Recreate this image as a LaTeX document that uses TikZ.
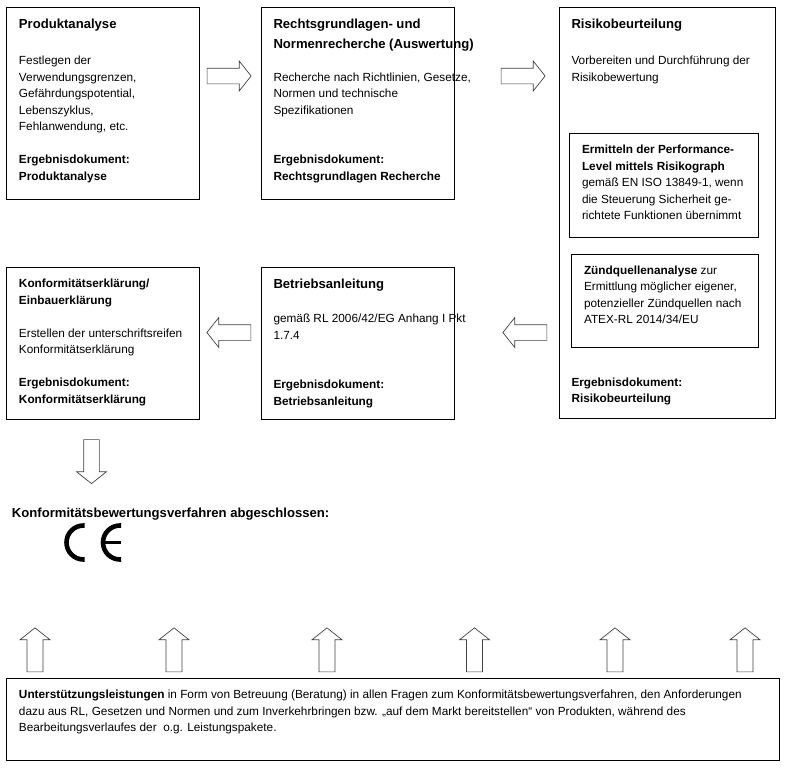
\documentclass[tikz,border=0pt]{standalone}
\usepackage{fontspec}
\setmainfont{Liberation Sans}
\usetikzlibrary{positioning,calc,shapes.arrows}
\newcommand{\boxtitle}[1]{{\bfseries\fontsize{13.1}{16.5}\selectfont #1}}
\tikzset{
  stepbox/.style={draw=black,line width=0.9pt,outer sep=0pt,inner sep=0pt,anchor=north west},
  boxtxt/.style={inner sep=0pt,outer sep=0pt,align=left,font=\fontsize{11.8}{16.5}\selectfont},
  blockarrow/.style={single arrow,draw=black!75,line width=0.7pt,fill=white,inner xsep=0pt,inner ysep=7.5pt,outer sep=0pt,
    minimum height=44pt,minimum width=29pt,single arrow head extend=7pt,
    single arrow tip angle=103,single arrow head indent=0pt},
  vblockarrow/.style={blockarrow,inner xsep=7.5pt,inner ysep=0pt},
  ce/.style={line width=4.6pt}
}
\begin{document}
\begin{tikzpicture}[x=1pt,y=-1pt]
  \useasboundingbox (0,0) rectangle (787,771);
  % TOP ROW: three working steps
  \node[stepbox,minimum width=193pt,minimum height=192pt] (prod) at (6.5,7.5) {};
  \node[stepbox,minimum width=193pt,minimum height=192pt,right=62pt of prod.north east,anchor=north west] (recht) {};
  \node[stepbox,minimum width=216pt,minimum height=411pt,right=105pt of recht.north east,anchor=north west] (risk) {};
  \node[boxtxt,below right=12pt and 12.5pt of prod.north west] (prodtxt) {\boxtitle{Produktanalyse}\\[19.5pt]
    Festlegen der\\Verwendungsgrenzen,\\Gefährdungspotential,\\Lebenszyklus,\\Fehlanwendung, etc.\\[16.5pt]
    \textbf{Ergebnisdokument:}\\\textbf{Produktanalyse}};
  \node[boxtxt,below right=12pt and 12pt of recht.north west] (rechttxt) {\boxtitle{Rechtsgrundlagen- und}\\[3pt]
    \boxtitle{Normenrecherche (Auswertung)}\\[16.5pt]
    Recherche nach Richtlinien, Gesetze,\\Normen und technische\\Spezifikationen\\[33pt]
    \textbf{Ergebnisdokument:}\\\textbf{Rechtsgrundlagen Recherche}};
  \node[boxtxt,below right=12pt and 12pt of risk.north west] (risktxt) {\boxtitle{Risikobeurteilung}\\[19.5pt]
    Vorbereiten und Durchführung der\\Risikobewertung};
  % inner boxes of the risk step
  \node[stepbox,minimum width=189pt,minimum height=104pt] (perf) at (569,133) {};
  \node[stepbox,minimum width=187pt,minimum height=93pt,below=17pt of perf.south east,anchor=north east] (zuend) {};
  \node[boxtxt,below right=12pt and 13pt of perf.north west] (perftxt) {\textbf{Ermitteln der Performance-}\\
    \textbf{Level mittels Risikograph}\\gemäß EN ISO 13849-1, wenn\\die Steuerung Sicherheit ge-\\richtete Funktionen übernimmt};
  \node[boxtxt,below right=11.5pt and 13pt of zuend.north west] (zuendtxt) {\textbf{Zündquellenanalyse} zur\\
    Ermittlung möglicher eigener,\\potenzieller Zündquellen nach\\ATEX-RL 2014/34/EU};
  \node[boxtxt,above right=13.5pt and 12pt of risk.south west] (riskres) {\textbf{Ergebnisdokument:}\\\textbf{Risikobeurteilung}};
  % SECOND ROW
  \node[stepbox,minimum width=193pt,minimum height=152pt] (konf) at (6.5,267) {};
  \node[stepbox,minimum width=193pt,minimum height=152pt,right=62pt of konf.north east,anchor=north west] (betr) {};
  \node[boxtxt,below right=12pt and 12.5pt of konf.north west] (konftxt) {\textbf{Konformitätserklärung/}\\
    \textbf{Einbauerklärung}\\[16.5pt]Erstellen der unterschriftsreifen\\Konformitätserklärung\\[16.5pt]
    \textbf{Ergebnisdokument:}\\\textbf{Konformitätserklärung}};
  \node[boxtxt,below right=12pt and 12pt of betr.north west] (betrtxt) {\boxtitle{Betriebsanleitung}\\[18pt]
    gemäß RL 2006/42/EG Anhang I Pkt\\1.7.4\\[33pt]
    \textbf{Ergebnisdokument:}\\\textbf{Betriebsanleitung}};
  % block arrows between the steps
  \node[blockarrow] (pr) at (226,76) {};
  \node[blockarrow] (rr) at (520,76) {};
  \node[blockarrow,shape border rotate=180] (rb) at (528,332.5) {};
  \node[blockarrow,shape border rotate=180] (bk) at (232,332.5) {};
  \node[vblockarrow,shape border rotate=270] (kd) at (91.5,458.5) {};
  % CLOSING LINE and CE mark
  \node[boxtxt,anchor=west,font=\bfseries\fontsize{13.1}{16.5}\selectfont] (done) at (12,514) {Konformitätsbewertungsverfahren abgeschlossen:};
  \coordinate (cmark) at (83.5,525.5);
  \coordinate (emark) at (120,525.5);
  \draw[ce] ($(cmark)+(1,0)$) -- (cmark) arc[start angle=90,end angle=270,radius=17pt] -- +(1,0);
  \draw[ce] ($(emark)+(1,0)$) -- (emark) arc[start angle=90,end angle=270,radius=17pt] -- +(1,0);
  \draw[line width=3.6pt] ($(emark)+(-18,17)$) -- ($(emark)+(1,17)$);
  % SUPPORT BOX with arrows up
  \node[stepbox,minimum width=773pt,minimum height=82pt] (supp) at (6.5,678.5) {};
  \node[boxtxt,below right=11.5pt and 12.5pt of supp.north west] (supptxt) {\textbf{Unterstützungsleistungen} in Form von Betreuung (Beratung) in allen Fragen zum Konformitätsbewertungsverfahren, den Anforderungen\\
    dazu aus RL, Gesetzen und Normen und zum Inverkehrbringen bzw. „auf dem Markt bereitstellen“ von Produkten, während des\\
    Bearbeitungsverlaufes der\ \ o.g. Leistungspakete.};
  \foreach \ax/\nm in {35/a,174/b,327/c,474.5/d,615/e,745/f}
    \node[vblockarrow,shape border rotate=90,minimum width=30pt] (up\nm) at (\ax,653) {};
\end{tikzpicture}
\end{document}
